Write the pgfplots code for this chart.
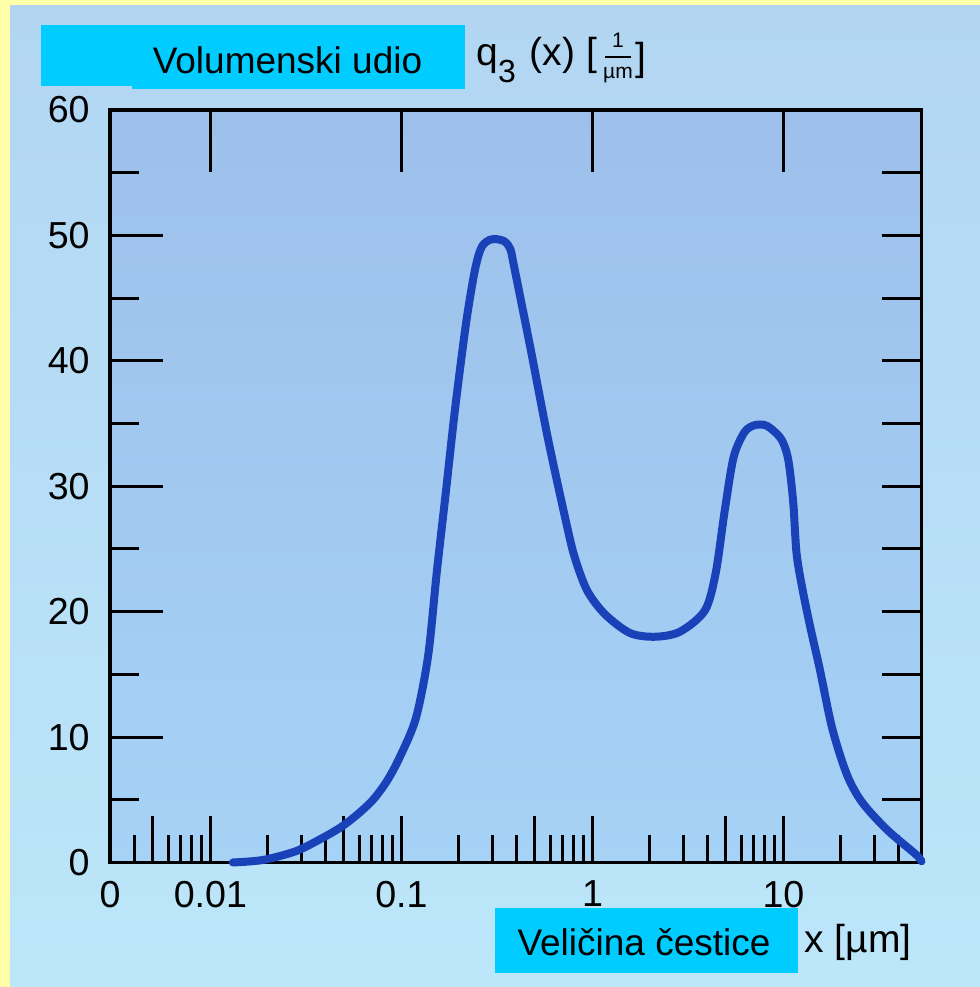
\documentclass[border=0pt]{standalone}
\usepackage{fontspec}
\setmainfont{Liberation Sans}
\usepackage{pgfplots}
\pgfplotsset{compat=1.18}
\definecolor{yel}{HTML}{FFFFAA}
\definecolor{outTop}{HTML}{B2D6F2}
\definecolor{outBot}{HTML}{BCE6FA}
\definecolor{inTop}{HTML}{9DC0EA}
\definecolor{inBot}{HTML}{A6D2F6}
\definecolor{cyanbox}{HTML}{00CCFF}
\definecolor{curve}{HTML}{1A42B8}
\pgfplotsset{
  myax/.style={scale only axis, width=405.75pt, height=376.25pt,
    at={(55pt,62.25pt)}, anchor=south west,
    xmin=0.00298, xmax=52.8, ymin=0, ymax=60,
    tick style={black, line width=1.5pt},
    ticklabel style={font=\fontsize{18.8}{20}\selectfont, text=black}},
}
\begin{document}
\begin{tikzpicture}[x=0.5pt,y=0.5pt]
\useasboundingbox (0,0) rectangle (980,987);
\fill[yel] (0,0) rectangle (980,987);
\shade[top color=outTop,bottom color=outBot] (10,0) rectangle (980,981);
\fill[cyanbox] (41,962) rectangle (465,901);
\fill[cyanbox] (132,962) rectangle (465,898);
\fill[cyanbox] (495,79) rectangle (798,14);

% main axis: background, bottom ticks, frame, curve
\begin{semilogxaxis}[myax,
  axis background/.style={shade, top color=inTop, bottom color=inBot},
  axis line style={line width=1.75pt, black},
  xtick pos=bottom,
  xtick={0.005,0.01,0.05,0.1,0.5,1,5,10},
  minor xtick={0.004,0.006,0.007,0.008,0.009,0.02,0.03,0.04,0.06,0.07,0.08,0.09,0.2,0.3,0.4,0.6,0.7,0.8,0.9,2,3,4,6,7,8,9,20,30,40},
  major tick length=23pt, minor tick length=13.5pt,
  xticklabels={}, ytick=\empty, clip=false]
\addplot[draw=curve, line width=4pt, smooth, tension=0.5, line cap=round, line join=round, no markers] table {
x y
0.0131 0
0.0188 0.2
0.028 0.9
0.038 1.9
0.048 2.8
0.0585 3.8
0.071 5.0
0.084 6.5
0.098 8.4
0.119 11.5
0.138 16.5
0.153 23.1
0.171 29.6
0.191 36.2
0.217 42.8
0.238 46.6
0.252 48.3
0.266 49.2
0.290 49.65
0.316 49.7
0.348 49.5
0.372 48.9
0.388 47.6
0.471 41.2
0.583 33.9
0.724 27.3
0.805 24.4
0.937 21.7
1.162 19.8
1.57 18.3
2.12 18.0
2.87 18.4
3.88 20.1
4.42 23.1
4.92 28.0
5.48 32.3
6.24 34.3
7.0 34.85
7.89 34.9
8.6 34.6
9.79 33.7
10.6 32.1
11.25 28.7
11.7 24.7
12.5 22.0
13.8 18.8
15.5 15.4
18.0 10.7
21.5 7.0
25.8 4.8
34.9 2.6
49.2 0.66
52.8 0.1
};
\end{semilogxaxis}

% top ticks
\begin{semilogxaxis}[myax, axis line style={draw=none},
  xtick pos=top, xtick={0.01,0.1,1,10}, minor tick length=0pt,
  major tick length=31pt, xticklabels={}, ytick=\empty]
\end{semilogxaxis}

% left ticks
\begin{semilogxaxis}[myax, axis line style={draw=none},
  ytick pos=left, ytick={10,20,30,40,50}, minor ytick={5,15,25,35,45,55},
  major tick length=26.5pt, minor tick length=14.5pt,
  yticklabels={}, xtick=\empty]
\end{semilogxaxis}

% right ticks
\begin{semilogxaxis}[myax, axis line style={draw=none},
  ytick pos=right, ytick={5,10,15,20,25,30,35,40,45,50,55},
  major tick length=20pt, minor tick length=0pt,
  yticklabels={}, xtick=\empty]
\end{semilogxaxis}

% labels
\begin{semilogxaxis}[myax, axis line style={draw=none},
  major tick length=0pt, minor tick length=0pt,
  xtick={0.00298,0.01,0.1,1,10}, xticklabels={0,0.01,0.1,1,10},
  ytick={0,10,20,30,40,50,60}, yticklabels={0,10,20,30,40,50,60},
  xticklabel style={anchor=north, inner sep=0pt, yshift=-9pt},
  yticklabel style={anchor=east, inner sep=0pt, xshift=-10pt}]
\end{semilogxaxis}

\node[font=\fontsize{18.5}{20}\selectfont] at (287.5,927) {Volumenski udio};
\node[font=\fontsize{19.5}{20}\selectfont, anchor=west, inner sep=0pt] at (476,927)
  {q\raisebox{-0.42em}{\fontsize{16}{16}\selectfont 3}\hspace{0.35em}(x)\hspace{0.3em}[};
\node[font=\fontsize{10.5}{11}\selectfont, inner sep=0pt, anchor=south] at (618,939) {1};
\draw[line width=0.6pt] (605,930) -- (631,930);
\node[font=\fontsize{10.5}{11}\selectfont, inner sep=0pt, anchor=north] at (618,920) {µm};
\node[font=\fontsize{19.5}{20}\selectfont, anchor=west, inner sep=0pt] at (635,927) {]};
\node[font=\fontsize{18.5}{20}\selectfont] at (644,45) {Veličina čestice};
\node[font=\fontsize{19.5}{20}\selectfont] at (858,45) {x [µm]};
\end{tikzpicture}
\end{document}
